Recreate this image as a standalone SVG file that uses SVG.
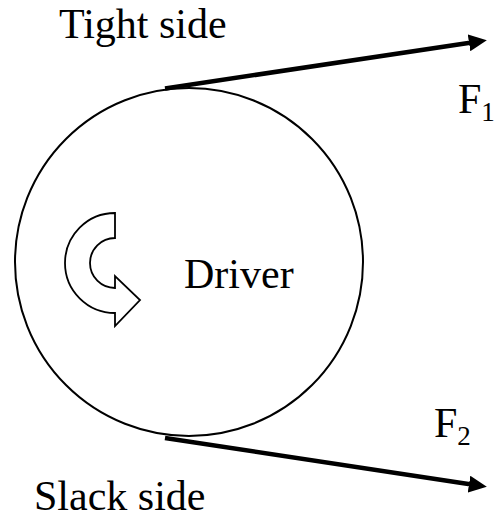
<svg xmlns="http://www.w3.org/2000/svg" width="495" height="519" viewBox="0 0 495 519">
<style>
text{font-family:"Liberation Serif","Times New Roman","DejaVu Serif",serif;fill:#000}
.lbl{font-size:42px}
.sub{font-size:27px}
.belt{stroke:#000;stroke-width:4.5;fill:none;marker-end:url(#ah)}
</style>
<defs>
<marker id="ah" markerUnits="userSpaceOnUse" markerWidth="18" markerHeight="17" viewBox="0 0 18 17" refX="1" refY="8.5" orient="auto">
<path d="M0,0 L18,8.5 L0,17 Z" fill="#000"/>
</marker>
</defs>
<rect width="495" height="519" fill="#fff"/>
<g id="driver">
<circle cx="189" cy="262" r="174" fill="none" stroke="#000" stroke-width="2"/>
<path d="M115,213 L115,238 A25,25 0 0 0 115,288 L115,276 L140,300 L115,326 L115,313 A50,50 0 0 1 115,213 Z" fill="#fff" stroke="#000" stroke-width="1.8" stroke-linejoin="miter"/>
<text class="lbl" x="184" y="288">Driver</text>
</g>
<g id="connectors">
<line class="belt" x1="165" y1="88.5" x2="470" y2="42.7"/>
<line class="belt" x1="165" y1="438" x2="470" y2="484.3"/>
</g>
<g id="tight">
<text class="lbl" x="59" y="38">Tight side</text>
</g>
<g id="slack">
<text class="lbl" x="34" y="510">Slack side</text>
</g>
<g id="f1">
<text class="lbl" x="458" y="113">F<tspan class="sub" dy="8">1</tspan></text>
</g>
<g id="f2">
<text class="lbl" x="434" y="437">F<tspan class="sub" dy="8">2</tspan></text>
</g>
</svg>
